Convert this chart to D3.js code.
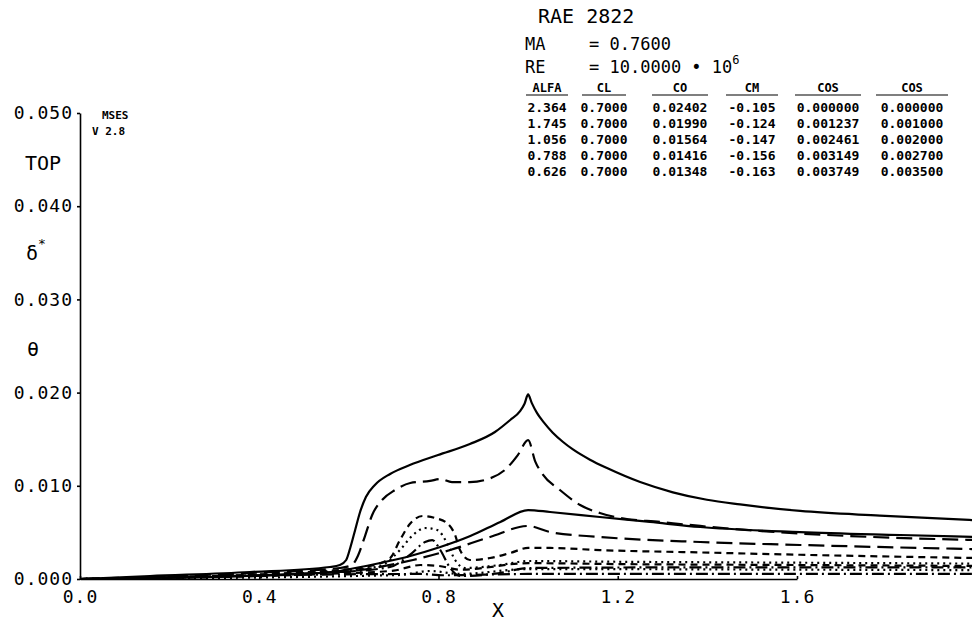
<!DOCTYPE html>
<html lang="en">
<head>
<meta charset="utf-8">
<title>RAE 2822 - top surface delta* and theta</title>
<script src="https://cdn.jsdelivr.net/npm/d3@7"></script>
<style>
  body { margin: 0; background-color: #fff; }
  svg { background-color: #fff; display: block; }
  text { font-family: "DejaVu Sans Mono", monospace; fill: #000; }
  .axis path, .axis line { stroke: #000; stroke-width: 1.6; }
  .axis text { font-size: 18px; letter-spacing: 1px; }
  .curve { fill: none; stroke: #000; stroke-width: 2.2; }
</style>
</head>
<body>
<script>

// ---- data ----
var xTicks = [0.0, 0.4, 0.8, 1.2, 1.6];
var yTicks = [0.000, 0.010, 0.020, 0.030, 0.040, 0.050];

var tableHeaders = ["ALFA", "CL", "CO", "CM", "COS", "COS"];
var alfa = ["2.364", "1.745", "1.056", "0.788", "0.626"];
var cl   = ["0.7000", "0.7000", "0.7000", "0.7000", "0.7000"];
var cd   = ["0.02402", "0.01990", "0.01564", "0.01416", "0.01348"];
var cm   = ["-0.105", "-0.124", "-0.147", "-0.156", "-0.163"];
var cqs1 = ["0.000000", "0.001237", "0.002461", "0.003149", "0.003749"];
var cqs2 = ["0.000000", "0.001000", "0.002000", "0.002700", "0.003500"];

// case 1 (solid)
var dstar1 = [[0,0],[0.156,0.00032],[0.379,0.00075],[0.558,0.00129],[0.580,0.00150],[0.594,0.00204],
  [0.603,0.00333],[0.614,0.00526],[0.625,0.00719],[0.638,0.00880],[0.658,0.01009],[0.692,0.01127],
  [0.736,0.01223],[0.799,0.01330],[0.870,0.01448],[0.926,0.01577],[0.960,0.01706],[0.982,0.01800],
  [0.992,0.01880],[1.0,0.01980],[1.008,0.01890],[1.020,0.01780],[1.035,0.01680],[1.055,0.01570],
  [1.078,0.01470],[1.100,0.01390],[1.138,0.01280],[1.176,0.01190],[1.250,0.01040],[1.323,0.00930],
  [1.399,0.00850],[1.473,0.00800],[1.607,0.00730],[1.785,0.00680],[2.0,0.00630]];
var theta1 = [[0,0],[0.268,0.00021],[0.491,0.00054],[0.580,0.00086],[0.603,0.00107],[0.670,0.00172],
  [0.737,0.00247],[0.804,0.00343],[0.871,0.00461],[0.938,0.00612],[1.0,0.00740],[1.049,0.00719],
  [1.160,0.00665],[1.272,0.00612],[1.384,0.00558],[1.607,0.00504],[1.830,0.00472],[2.0,0.00450]];

// case 2 (long dash)
var dstar2 = [[0,0],[0.379,0.00064],[0.580,0.00118],[0.607,0.00150],[0.620,0.00247],[0.636,0.00461],
  [0.652,0.00687],[0.674,0.00848],[0.703,0.00955],[0.737,0.01030],[0.781,0.01052],[0.804,0.01073],
  [0.830,0.01040],[0.870,0.01040],[0.915,0.01080],[0.948,0.01170],[0.977,0.01330],[1.0,0.01490],
  [1.016,0.01260],[1.033,0.01120],[1.071,0.00955],[1.116,0.00794],[1.160,0.00708],[1.205,0.00655],
  [1.294,0.00612],[1.384,0.00569],[1.517,0.00515],[1.718,0.00461],[2.0,0.00418]];
var theta2 = [[0,0],[0.580,0.00075],[0.625,0.00097],[0.743,0.00204],[0.826,0.00311],[0.915,0.00451],
  [1.0,0.00569],[1.049,0.00504],[1.160,0.00451],[1.384,0.00397],[1.607,0.00365],[2.0,0.00320]];

// case 3 (medium dash)
var dstar3 = [[0,0],[0.580,0.00097],[0.647,0.00139],[0.692,0.00225],[0.714,0.00418],[0.736,0.00590],
  [0.765,0.00676],[0.792,0.00655],[0.819,0.00600],[0.837,0.00472],[0.848,0.00311],[0.870,0.00204],
  [0.915,0.00225],[0.960,0.00279],[1.0,0.00333],[1.049,0.00333],[1.160,0.00310],[1.384,0.00285],
  [1.607,0.00260],[2.0,0.00225]];
var theta3 = [[0,0],[0.580,0.00060],[0.700,0.00090],[0.760,0.00150],[0.800,0.00140],[0.850,0.00100],
  [1.0,0.00170],[1.2,0.00160],[1.6,0.00150],[2.0,0.00140]];

// case 4 (dotted)
var dstar4 = [[0,0],[0.580,0.00086],[0.670,0.00140],[0.714,0.00311],[0.743,0.00472],[0.770,0.00547],
  [0.797,0.00526],[0.819,0.00386],[0.837,0.00204],[0.859,0.00118],[0.937,0.00150],[1.0,0.00193],
  [1.2,0.00185],[1.6,0.00175],[2.0,0.00165]];
var theta4 = [[0,0],[0.714,0.00043],[0.781,0.00086],[0.848,0.00054],[1.0,0.00107],[1.6,0.00100],[2.0,0.00095]];

// case 5 (dash-dot)
var dstar5 = [[0,0],[0.580,0.00075],[0.692,0.00129],[0.736,0.00258],[0.770,0.00397],[0.786,0.00418],
  [0.804,0.00311],[0.826,0.00118],[0.848,0.00032],[0.937,0.00064],[1.0,0.00118],[1.4,0.00125],[2.0,0.00125]];
var theta5 = [[0,0],[0.760,0.00054],[0.810,0.00040],[1.0,0.00054],[2.0,0.00054]];

var curves = [
  { pts: dstar1, dash: null }, { pts: theta1, dash: null },
  { pts: dstar2, dash: "16,7" }, { pts: theta2, dash: "16,7" },
  { pts: dstar3, dash: "7,5" }, { pts: theta3, dash: "7,5" },
  { pts: dstar4, dash: "2,4" }, { pts: theta4, dash: "2,4" },
  { pts: dstar5, dash: "12,4,2,4" }, { pts: theta5, dash: "12,4,2,4" }
];

// ---- drawing ----
var width = 972, height = 622;

var svg = d3.select("body")
  .append("svg")
  .attr("width", width)
  .attr("height", height);

var x = d3.scaleLinear().domain([0, 1.6]).range([80, 797]);
var y = d3.scaleLinear().domain([0, 0.05]).range([579, 113]);

svg.append("g")
  .attr("class", "axis")
  .attr("transform", "translate(0,579)")
  .call(d3.axisBottom(x).tickValues(xTicks).tickFormat(d3.format(".1f"))
    .tickSizeInner(-3).tickSizeOuter(0).tickPadding(11));

svg.append("g")
  .attr("class", "axis")
  .attr("transform", "translate(80,0)")
  .call(d3.axisLeft(y).tickValues(yTicks).tickFormat(d3.format(".3f"))
    .tickSizeInner(3).tickSizeOuter(0).tickPadding(4));

var line = d3.line()
  .x(function(d) { return x(d[0]); })
  .y(function(d) { return y(d[1]); })
  .curve(d3.curveMonotoneX);

svg.selectAll(".curve")
  .data(curves)
  .enter()
  .append("path")
  .attr("class", "curve")
  .attr("d", function(d) { return line(d.pts); })
  .attr("stroke-dasharray", function(d) { return d.dash; });

// axis titles
svg.append("text").attr("x", 498).attr("y", 617).attr("text-anchor", "middle")
  .style("font-size", "20px").text("X");
svg.append("text").attr("x", 25).attr("y", 170).style("font-size", "20px").text("TOP");
var ds = svg.append("text").attr("x", 26).attr("y", 260).style("font-size", "20px");
ds.append("tspan").text("δ");
ds.append("tspan").attr("dy", -12).style("font-size", "13px").text("*");
svg.append("text").attr("x", 27).attr("y", 356).style("font-size", "20px").text("θ");

svg.append("text").attr("x", 102).attr("y", 119).style("font-size", "11px")
  .style("font-weight", "bold").text("MSES");
svg.append("text").attr("x", 92).attr("y", 135).style("font-size", "11px")
  .style("font-weight", "bold").text("V 2.8");

// title block
svg.append("text").attr("x", 538).attr("y", 23).style("font-size", "20px").text("RAE 2822");
svg.append("text").attr("x", 525).attr("y", 50).style("font-size", "17px").text("MA");
svg.append("text").attr("x", 589).attr("y", 50).style("font-size", "17px").text("= 0.7600");
svg.append("text").attr("x", 525).attr("y", 73).style("font-size", "17px").text("RE");
var re = svg.append("text").attr("x", 589).attr("y", 73).style("font-size", "17px");
re.append("tspan").text("= 10.0000 • 10");
re.append("tspan").attr("dy", -9).style("font-size", "12px").text("6");

// table
var colX = [547, 604, 680, 752, 828, 912];
var colW = [42, 44, 56, 52, 66, 72];
var rows = d3.range(alfa.length).map(function(i) {
  return [alfa[i], cl[i], cd[i], cm[i], cqs1[i], cqs2[i]];
});

svg.selectAll(".hdr")
  .data(tableHeaders)
  .enter()
  .append("text")
  .attr("class", "hdr")
  .attr("x", function(d, i) { return colX[i]; })
  .attr("y", 92)
  .attr("text-anchor", "middle")
  .style("font-size", "12px")
  .style("font-weight", "bold")
  .text(function(d) { return d; });

svg.selectAll(".uline")
  .data(tableHeaders)
  .enter()
  .append("line")
  .attr("x1", function(d, i) { return colX[i] - colW[i] / 2; })
  .attr("x2", function(d, i) { return colX[i] + colW[i] / 2; })
  .attr("y1", 95).attr("y2", 95)
  .attr("stroke", "#000").attr("stroke-width", 1.2);

rows.forEach(function(r, j) {
  svg.selectAll(".row" + j)
    .data(r)
    .enter()
    .append("text")
    .attr("x", function(d, i) { return colX[i]; })
    .attr("y", 112 + j * 16)
    .attr("text-anchor", "middle")
    .style("font-size", "13px")
    .style("font-weight", "bold")
    .text(function(d) { return d; });
});

</script>
</body>
</html>
